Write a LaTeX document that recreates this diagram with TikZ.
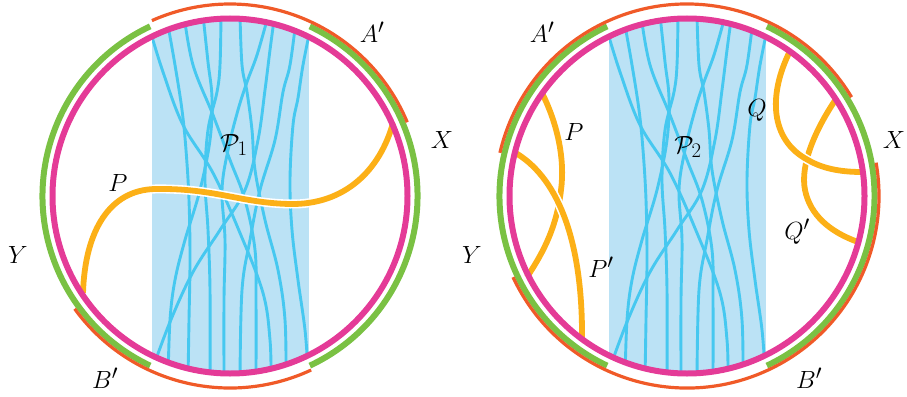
\documentclass[tikz,border=0pt]{standalone}
\usepackage{amsmath}
\definecolor{mag}{RGB}{228,59,151}
\definecolor{grn}{RGB}{122,193,67}
\definecolor{org}{RGB}{240,90,40}
\definecolor{yel}{RGB}{252,176,23}
\definecolor{lblue}{RGB}{187,226,245}
\definecolor{sblue}{RGB}{70,200,240}
\tikzset{
  magc/.style={draw=mag, line width=6pt},
  grnarc/.style={draw=grn, line width=6pt},
  orgarc/.style={draw=org, line width=3.2pt},
  ypath/.style={draw=yel, line width=5.8pt},
  wpath/.style={draw=white, line width=9pt},
  strand/.style={draw=sblue, line width=2.9pt},
  lab/.style={font=\fontsize{29}{34}\selectfont, inner sep=0pt}
}
\newcommand{\mystrands}{%
  \draw[strand] plot[smooth, tension=0.6] coordinates {(-80,-166) (-67,-124) (-47,-71) (-17,-23) (10,37) (33,97) (40,144) (41,184)};
  \draw[strand] plot[smooth, tension=0.6] coordinates {(-63,-176) (-55,-131) (-48,-86) (-44,-46) (-41,4) (-40,64) (-41,124) (-42,184)};
  \draw[strand] plot[smooth, tension=0.6] coordinates {(-46,-181) (-37,-131) (-17,-81) (0,-36) (15,4) (25,54) (26,104) (26,184)};
  \draw[strand] plot[smooth, tension=0.6] coordinates {(-27,-181) (-22,-134) (-18,-98) (-20,-56) (-30,-6) (-45,44) (-55,84) (-60,124) (-62,184)};
  \draw[strand] plot[smooth, tension=0.6] coordinates {(-9,-181) (-10,-131) (-13,-104) (-22,-66) (-25,-16) (-22,34) (-20,94) (-20,184)};
  \draw[strand] plot[smooth, tension=0.6] coordinates {(10,-181) (12,-131) (17,-104) (22,-66) (25,-26) (35,24) (48,74) (55,124) (56,184)};
  \draw[strand] plot[smooth, tension=0.6] coordinates {(37,-176) (27,-141) (17,-114) (8,-86) (-2,-46) (-8,-6) (-5,44) (-6,104) (-6,184)};
  \draw[strand] plot[smooth, tension=0.6] coordinates {(-80,180) (-60,126) (-37,76) (-10,34) (15,-6) (28,-56) (35,-106) (40,-146) (44,-176)};
  \draw[strand] plot[smooth, tension=0.6] coordinates {(66,-176) (60,-131) (53,-104) (45,-56) (30,-6) (20,44) (12,94) (10,184)};
  \draw[strand] plot[smooth, tension=0.6] coordinates {(80,-166) (73,-131) (68,-98) (63,-71) (60,-16) (62,34) (68,84) (75,134) (78,174)};
}
\newcommand{\myband}{%
  \begin{scope}
    \clip (0,0) circle (177.5);
    \clip (-78,-200) rectangle (79,200);
    \fill[lblue] (-78,-200) rectangle (79,200);
    \mystrands
  \end{scope}
}
\newcommand{\mygreen}{%
  \draw[grnarc] (64.8:187.5) arc[start angle=64.8, end angle=-64.8, radius=187.5];
  \draw[grnarc] (-115.2:187.5) arc[start angle=-115.2, end angle=-244.8, radius=187.5];
}
\begin{document}
\begin{tikzpicture}[x=1pt, y=-1pt]
\useasboundingbox (0,0) rectangle (907,396);
% ---------- left picture ----------
\begin{scope}[shift={(230,196)}]
  \myband
  \draw[wpath] (-147,97) .. controls (-145,34) and (-120,-6) .. (-75,-7)
     .. controls (-15,-8) and (10,7) .. (60,8)
     .. controls (115,9) and (150,-26) .. (163,-73);
  \draw[ypath] (-147,97) .. controls (-145,34) and (-120,-6) .. (-75,-7)
     .. controls (-15,-8) and (10,7) .. (60,8)
     .. controls (115,9) and (150,-26) .. (163,-73);
  \draw[magc] (0,0) circle (177.5);
  \mygreen
  \draw[orgarc] (-22.6:192) arc[start angle=-22.6, end angle=-114, radius=192];
  \draw[orgarc] (-216:192) arc[start angle=-216, end angle=-295, radius=192];
\end{scope}
% ---------- right picture ----------
\begin{scope}[shift={(687,196)}]
  \myband
  \draw[ypath] (-145,-103) .. controls (-129,-71) and (-122,-36) .. (-126,-6)
     .. controls (-130,29) and (-142,54) .. (-160,81);
  \draw[wpath] (-173,-44) .. controls (-132,-21) and (-104,39) .. (-105,144);
  \draw[ypath] (-173,-44) .. controls (-132,-21) and (-104,39) .. (-105,144);
  \draw[ypath] (149,-97) .. controls (128,-66) and (113,-31) .. (118,-6)
     .. controls (123,19) and (143,36) .. (171,46);
  \draw[wpath] (103,-145) .. controls (81,-101) and (83,-56) .. (121,-36)
     .. controls (138,-26) and (158,-24) .. (175,-24);
  \draw[ypath] (103,-145) .. controls (81,-101) and (83,-56) .. (121,-36)
     .. controls (138,-26) and (158,-24) .. (175,-24);
  \draw[magc] (0,0) circle (177.5);
  \mygreen
  \draw[orgarc] (-31:192) arc[start angle=-31, end angle=-167, radius=192];
  \draw[orgarc] (-205:192) arc[start angle=-205, end angle=-370, radius=192];
\end{scope}
% ---------- labels ----------
\node[lab] (lA) at (372,32) {$A'$};
\node[lab] (lX) at (442,140) {$X$};
\node[lab] (lY) at (18,255) {$Y$};
\node[lab] (lB) at (105,378) {$B'$};
\node[lab] (lP) at (118,183) {$P$};
\node[lab] (lP1) at (234,145) {$\mathcal{P}_1$};
\node[lab] (rA) at (542,32) {$A'$};
\node[lab] (rX) at (894,140) {$X$};
\node[lab] (rY) at (472,255) {$Y$};
\node[lab] (rB) at (809,378) {$B'$};
\node[lab] (rP) at (574,132) {$P$};
\node[lab] (rPp) at (601,267) {$P'$};
\node[lab] (rP2) at (688,147) {$\mathcal{P}_2$};
\node[lab] (rQ) at (757,110) {$Q$};
\node[lab] (rQp) at (797,232) {$Q'$};
\end{tikzpicture}
\end{document}
